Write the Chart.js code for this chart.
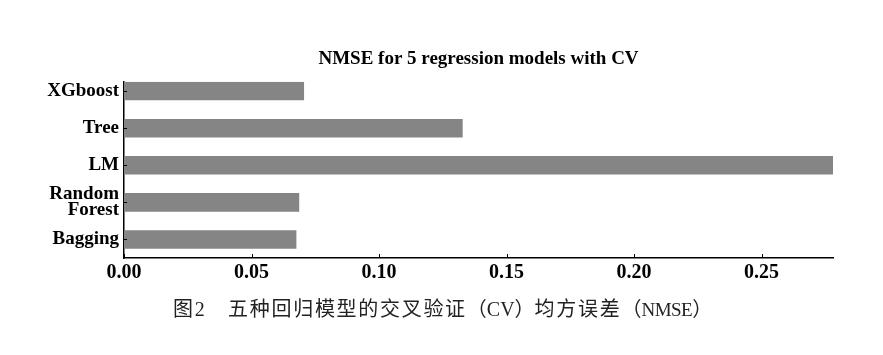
<!DOCTYPE html>
<html>
<head>
<meta charset="utf-8">
<script src="https://cdn.jsdelivr.net/npm/chart.js@4/dist/chart.umd.min.js"></script>
<style>
  html, body { margin: 0; padding: 0; background: #fff; }
  #wrap { position: relative; width: 883px; height: 355px; }
  #caption {
    position: absolute; left: 0; top: 296px; width: 883px; text-align: left;
    padding-left: 173px; box-sizing: border-box;
    font-family: "Liberation Serif", "Noto Sans CJK SC", serif;
    font-size: 20px; letter-spacing: 1.7px; color: #222; line-height: 26px; white-space: nowrap;
  }
  #caption .tight { letter-spacing: 0; }
  #caption .small { font-size: 19px; letter-spacing: -0.5px; }
</style>
</head>
<body>
<div id="wrap">
  <canvas id="c" width="883" height="355"></canvas>
  <div id="caption">图2　五种回归模型的交叉验证<span class="tight">（CV）</span>均方误差<span class="tight">（<span class="small">NMSE</span>）</span></div>
</div>
<script>
const categories = ['XGboost', 'Tree', 'LM', 'Random Forest', 'Bagging'];
const nmseValues = [0.0706, 0.1328, 0.2782, 0.0687, 0.0676];
const xTickValues = [0, 0.05, 0.10, 0.15, 0.20, 0.25];
const chartTitle = 'NMSE for 5 regression models with CV';

const points = categories.map((c, i) => ({ x: nmseValues[i], y: i }));

const inwardTicks = {
  id: 'inwardTicks',
  afterDraw(chart) {
    const ctx = chart.ctx;
    const xs = chart.scales.x, ys = chart.scales.y;
    ctx.save();
    ctx.strokeStyle = '#000';
    ctx.lineWidth = 1;
    xTickValues.forEach(v => {
      const px = Math.round(xs.getPixelForValue(v)) + 0.5;
      ctx.beginPath();
      ctx.moveTo(px, ys.bottom);
      ctx.lineTo(px, ys.bottom - 4);
      ctx.stroke();
    });
    categories.forEach((c, i) => {
      const py = Math.round(ys.getPixelForValue(i)) + 0.5;
      ctx.beginPath();
      ctx.moveTo(xs.left, py);
      ctx.lineTo(xs.left + 3, py);
      ctx.stroke();
    });
    ctx.restore();
  }
};

new Chart(document.getElementById('c'), {
  type: 'bar',
  data: {
    datasets: [{
      data: points,
      backgroundColor: '#858585',
      borderWidth: 0,
      barPercentage: 0.5,
      categoryPercentage: 1.0
    }]
  },
  plugins: [inwardTicks],
  options: {
    indexAxis: 'y',
    responsive: false,
    animation: false,
    layout: { padding: { left: 0, right: 50, top: 0, bottom: 60 } },
    plugins: {
      legend: { display: false },
      tooltip: { enabled: false },
      title: {
        display: true,
        text: chartTitle,
        fullSize: false,
        color: '#000',
        font: { family: '"Liberation Serif", serif', size: 19, weight: 'bold', lineHeight: 1.2 },
        padding: { top: 48, bottom: 11 }
      }
    },
    scales: {
      x: {
        type: 'linear',
        offset: false,
        min: 0,
        max: 0.278,
        afterBuildTicks(scale) { scale.ticks = xTickValues.map(v => ({ value: v })); },
        afterFit(scale) { scale.height = 37; },
        grid: { display: false, drawTicks: false },
        border: { display: true, color: '#000', width: 1.5 },
        ticks: {
          color: '#000',
          padding: 3,
          maxRotation: 0,
          autoSkip: false,
          font: { family: '"Liberation Serif", serif', size: 20, weight: 'bold' },
          callback: (v) => Number(v).toFixed(2)
        }
      },
      y: {
        type: 'linear',
        offset: false,
        reverse: true,
        min: -0.25,
        max: 4.5,
        afterBuildTicks(scale) { scale.ticks = categories.map((c, i) => ({ value: i })); },
        afterFit(scale) { scale.width = 124; },
        grid: { display: false, drawTicks: false },
        border: { display: true, color: '#000', width: 1.5 },
        ticks: {
          color: '#000',
          padding: 5,
          autoSkip: false,
          font: { family: '"Liberation Serif", serif', size: 19, weight: 'bold', lineHeight: 0.85 },
          callback: (v) => { const s = categories[v]; return s && s.indexOf(' ') > 0 ? s.split(' ') : s; }
        }
      }
    }
  }
});
</script>
</body>
</html>
